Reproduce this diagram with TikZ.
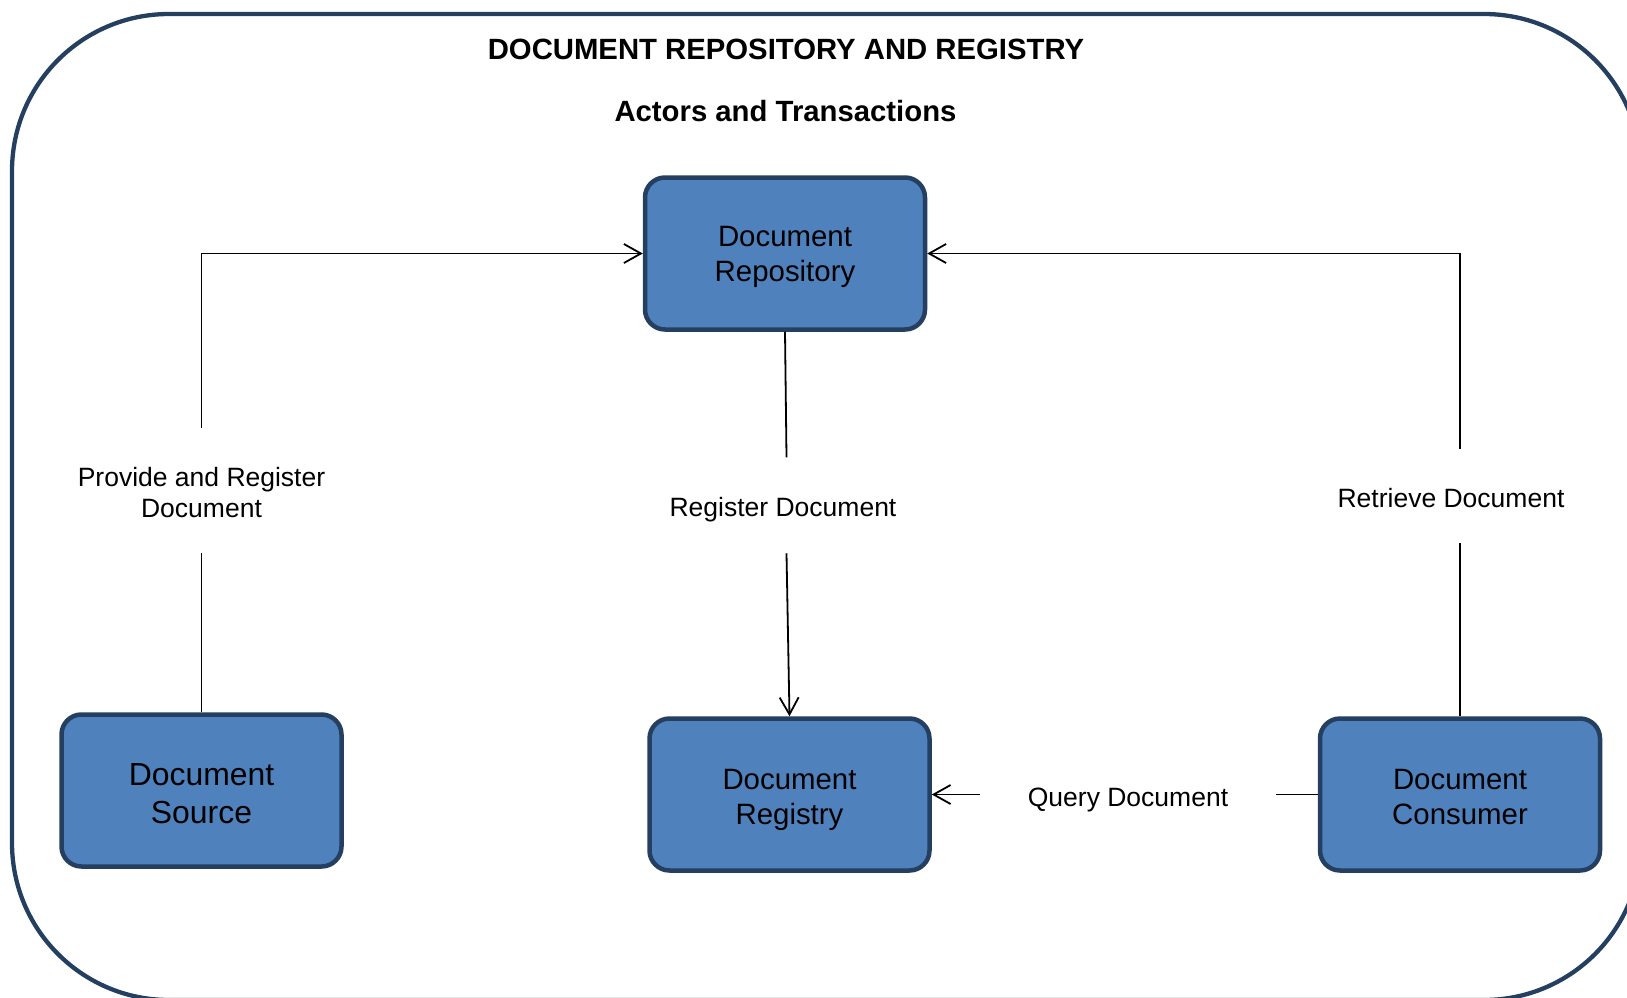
\documentclass[tikz,border=0pt]{standalone}
\usepackage{fontspec}
\setmainfont{Liberation Sans}
\usetikzlibrary{arrows.meta}
\definecolor{boxfill}{HTML}{4F81BD}
\definecolor{boxedge}{HTML}{243F60}
% shift text inside a node without changing the node's size: #1 horizontal, #2 down
\newcommand\shifttxt[3]{\raisebox{-#2}[\height][\depth]{\hspace*{#1}\begin{tabular}{@{}c@{}}#3\end{tabular}\hspace*{-#1}}}
\begin{document}
\begin{tikzpicture}[x=1pt,y=-1pt,
  actor/.style={draw=boxedge, fill=boxfill, line width=4.5pt, rounded corners=20pt,
    minimum width=280pt, minimum height=152pt, inner sep=0pt, align=center,
    font=\fontsize{29.4}{35.3}\selectfont},
  lbl/.style={inner sep=0pt, align=center, font=\fontsize{26.5}{31}\selectfont},
  conn/.style={line width=1.8pt, draw=black},
  arr/.style={conn, -{Straight Barb[length=17pt,width=19pt]}},
  ttl/.style={font=\fontsize{29.3}{35}\selectfont\bfseries, inner sep=0pt},
  frame/.style={draw=boxedge, line width=4.3pt, rounded corners=157pt}]
\clip (0,0) rectangle (1627,998);
\draw[frame] (12,14) rectangle (1641,1000);

\node[ttl] (title) at (786,49) {DOCUMENT REPOSITORY AND REGISTRY};
\node[ttl] (subtitle) at (785.5,111) {Actors and Transactions};

\node[actor] (repo) at (785,253.5) {\shifttxt{0pt}{3.6pt}{Document\\Repository}};
\node[actor, font=\fontsize{31.9}{37.4}\selectfont] (src) at (201.5,790.5) {\shifttxt{0pt}{6.6pt}{Document\\Source}};
\node[actor] (reg) at (789.5,794.5) {\shifttxt{0pt}{5.7pt}{Document\\Registry}};
\node[actor] (con) at (1460,794.5) {\shifttxt{0pt}{5.7pt}{Document\\Consumer}};

\node[lbl, minimum height=125pt] (pr) at (201.5,490.5) {\shifttxt{0pt}{5pt}{Provide and Register\\Document}};
\node[lbl, minimum height=95.5pt] (rd) at (786.5,505.3) {\shifttxt{-3.5pt}{5pt}{Register Document}};
\node[lbl, minimum height=94pt] (rt) at (1451,496) {\shifttxt{0pt}{5pt}{Retrieve Document}};
\node[lbl, minimum width=295.5pt] (qd) at (1128,794.5) {\shifttxt{0pt}{6pt}{Query Document}};

\draw[conn] (src.north) -- (pr.south);
\draw[arr] (pr.north) |- (repo.west);
\draw[conn] (repo.south) -- (rd.north);
\draw[arr] (rd.south) -- (reg.north);
\draw[conn] (con.north) -- (con.north |- rt.south);
\draw[arr] (con.north |- rt.north) |- (repo.east);
\draw[conn] (con.west) -- (qd.east);
\draw[arr] (qd.west) -- (reg.east);
\end{tikzpicture}
\end{document}
